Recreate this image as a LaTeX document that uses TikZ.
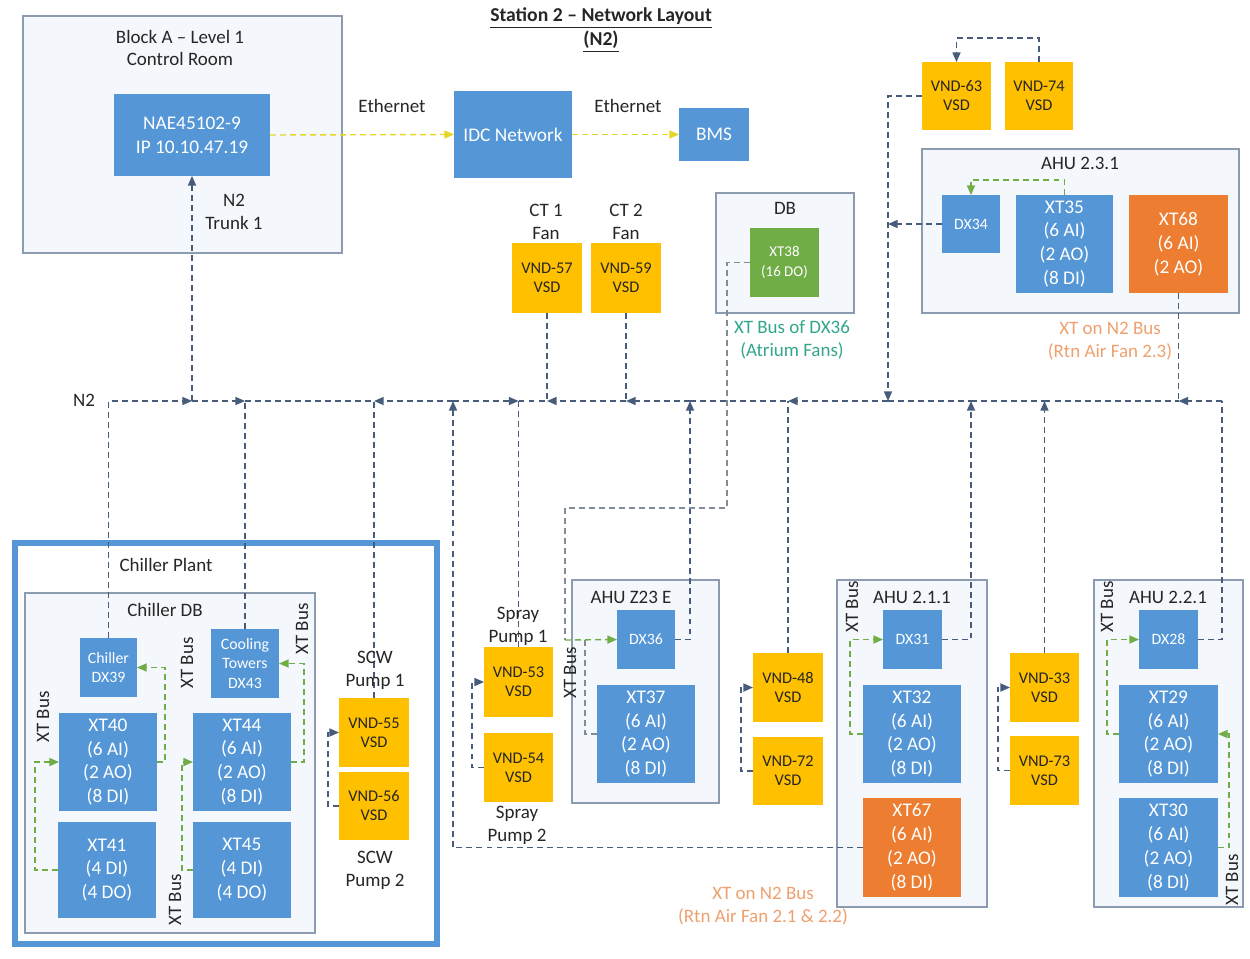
\documentclass[tikz,border=0pt]{standalone}
\usepackage{fontspec}
\setmainfont{Carlito}
\usetikzlibrary{arrows.meta}
\definecolor{bxblue}{RGB}{84,150,214}
\definecolor{bxyel}{RGB}{255,192,0}
\definecolor{bxorg}{RGB}{237,125,49}
\definecolor{bxgrn}{RGB}{112,173,71}
\definecolor{lnslate}{RGB}{70,92,122}
\definecolor{lngray}{RGB}{130,140,150}
\definecolor{lngreen}{RGB}{112,173,71}
\definecolor{lneth}{RGB}{228,215,40}
\definecolor{cntfill}{RGB}{244,247,252}
\definecolor{cntdraw}{RGB}{140,155,175}
\definecolor{txtorg}{RGB}{238,160,110}
\definecolor{txtteal}{RGB}{50,165,140}
\definecolor{txtdark}{RGB}{38,38,38}
\newcommand{\mkbox}[7]{%
  \pgfmathsetmacro{\mkbw}{(#4-#2)*0.569055}%
  \pgfmathsetmacro{\mkbh}{(#5-#3)*0.569055}%
  \node[#6,minimum width=\mkbw pt,minimum height=\mkbh pt] (#1) at ({(#2+#4)/2},{(#3+#5)/2}) {#7};}
\tikzset{
  boxbase/.style={inner sep=0pt,outer sep=0pt,align=center,draw=none},
  bluebox/.style={boxbase,fill=bxblue,text=white,font=\fontsize{11}{13.6}\selectfont},
  dxbox/.style={boxbase,fill=bxblue,text=white,font=\fontsize{9}{10.9}\selectfont},
  orgbox/.style={boxbase,fill=bxorg,text=white,font=\fontsize{11}{13.6}\selectfont},
  grnbox/.style={boxbase,fill=bxgrn,text=white,font=\fontsize{8.5}{11.3}\selectfont},
  vsdbox/.style={boxbase,fill=bxyel,text=txtdark,font=\fontsize{9.3}{10.8}\selectfont},
  cntbox/.style={boxbase,draw=cntdraw,fill=cntfill,line width=0.8pt},
  plantbox/.style={boxbase,draw=bxblue,fill=white,line width=3.9pt},
  lbl/.style={inner sep=0pt,align=center,text=txtdark,font=\fontsize{10.8}{13}\selectfont},
  n2/.style={draw=lnslate,line width=0.8pt,dash pattern=on 3.4pt off 2.3pt},
  n2a/.style={n2,-{Triangle[length=5.5pt,width=4.6pt]}},
  grl/.style={draw=lngray,line width=0.8pt,dash pattern=on 3.4pt off 2.3pt},
  gra/.style={draw=lngreen,line width=0.8pt,dash pattern=on 3.4pt off 2.3pt,-{Triangle[length=5.5pt,width=4.6pt]}},
  eth/.style={draw=lneth,line width=0.8pt,dash pattern=on 3.4pt off 2.3pt,-{Triangle[length=5.5pt,width=4.6pt]}},
}
\begin{document}
\begin{tikzpicture}[x=0.02cm,y=-0.02cm]
\useasboundingbox (0,0) rectangle (1250,958);
% containers
\mkbox{blocka}{23}{16}{342}{253}{cntbox}{}
\mkbox{ahu231}{922}{149}{1239}{313}{cntbox}{}
\mkbox{db}{716}{193}{854}{313}{cntbox}{}
\mkbox{plant}{15}{543}{437}{944}{plantbox}{}
\mkbox{chdb}{25}{593}{315}{933}{cntbox}{}
\mkbox{ahuz23}{572}{580}{719}{803}{cntbox}{}
\mkbox{ahu211}{837}{580}{987}{907}{cntbox}{}
\mkbox{ahu221}{1094}{580}{1243}{907}{cntbox}{}
% boxes
\mkbox{nae}{114}{94}{270}{176}{bluebox}{NAE45102-9\\IP 10.10.47.19}
\mkbox{idc}{454}{91}{572}{178}{bluebox}{IDC Network}
\mkbox{bms}{679}{108}{749}{161}{bluebox}{BMS}
\mkbox{vnd57}{512}{243}{582}{313}{vsdbox}{VND-57\\VSD}
\mkbox{vnd59}{591}{243}{661}{313}{vsdbox}{VND-59\\VSD}
\mkbox{xt38}{750}{228}{819}{297}{grnbox}{XT38\\(16 DO)}
\mkbox{vnd63}{922}{62}{991}{130}{vsdbox}{VND-63\\VSD}
\mkbox{vnd74}{1005}{62}{1073}{130}{vsdbox}{VND-74\\VSD}
\mkbox{dx34}{942}{195}{1000}{253}{dxbox}{DX34}
\mkbox{xt35}{1016}{195}{1113}{293}{bluebox}{XT35\\(6 AI)\\(2 AO)\\(8 DI)}
\mkbox{xt68}{1129}{195}{1228}{293}{orgbox}{XT68\\(6 AI)\\(2 AO)}
\mkbox{dx39}{80}{638}{137}{697}{dxbox}{Chiller\\DX39}
\mkbox{dx43}{211}{629}{279}{698}{dxbox}{Cooling\\Towers\\DX43}
\mkbox{xt40}{59}{713}{157}{811}{bluebox}{XT40\\(6 AI)\\(2 AO)\\(8 DI)}
\mkbox{xt41}{58}{822}{156}{918}{bluebox}{XT41\\(4 DI)\\(4 DO)}
\mkbox{xt44}{193}{713}{291}{811}{bluebox}{XT44\\(6 AI)\\(2 AO)\\(8 DI)}
\mkbox{xt45}{193}{822}{291}{918}{bluebox}{XT45\\(4 DI)\\(4 DO)}
\mkbox{vnd55}{339}{698}{409}{767}{vsdbox}{VND-55\\VSD}
\mkbox{vnd56}{339}{772}{409}{840}{vsdbox}{VND-56\\VSD}
\mkbox{vnd53}{484}{647}{553}{717}{vsdbox}{VND-53\\VSD}
\mkbox{vnd54}{484}{733}{553}{802}{vsdbox}{VND-54\\VSD}
\mkbox{dx36}{617}{610}{675}{669}{dxbox}{DX36}
\mkbox{xt37}{597}{685}{695}{783}{bluebox}{XT37\\(6 AI)\\(2 AO)\\(8 DI)}
\mkbox{vnd48}{753}{653}{823}{722}{vsdbox}{VND-48\\VSD}
\mkbox{vnd72}{753}{737}{823}{805}{vsdbox}{VND-72\\VSD}
\mkbox{dx31}{883}{610}{942}{669}{dxbox}{DX31}
\mkbox{xt32}{863}{685}{961}{783}{bluebox}{XT32\\(6 AI)\\(2 AO)\\(8 DI)}
\mkbox{xt67}{863}{798}{961}{897}{orgbox}{XT67\\(6 AI)\\(2 AO)\\(8 DI)}
\mkbox{vnd33}{1010}{653}{1079}{722}{vsdbox}{VND-33\\VSD}
\mkbox{vnd73}{1010}{736}{1079}{805}{vsdbox}{VND-73\\VSD}
\mkbox{dx28}{1139}{610}{1198}{669}{dxbox}{DX28}
\mkbox{xt29}{1119}{685}{1218}{783}{bluebox}{XT29\\(6 AI)\\(2 AO)\\(8 DI)}
\mkbox{xt30}{1119}{798}{1218}{897}{bluebox}{XT30\\(6 AI)\\(2 AO)\\(8 DI)}
% bus coordinates
\coordinate (busy) at (0,401);
\coordinate (b108) at (108,401);
\coordinate (b192) at (nae.south |- busy);
\coordinate (b245) at (dx43.north |- busy);
\coordinate (b375) at (vnd55.north |- busy);
\coordinate (b453) at (453,401);
\coordinate (b518) at (vnd53.north |- busy);
\coordinate (b547) at (vnd57.south |- busy);
\coordinate (b626) at (vnd59.south |- busy);
\coordinate (b690) at (690,401);
\coordinate (b788) at (vnd48.north |- busy);
\coordinate (b888) at (888,401);
\coordinate (b971) at (971,401);
\coordinate (b1045) at (vnd33.north |- busy);
\coordinate (b1178) at (xt68.south |- busy);
\coordinate (b1222) at (1222,401);
\coordinate (x38a) at (727,508);
\coordinate (x38b) at (565,640);
\coordinate (x37a) at (585,640);
% ethernet
\draw[eth] (nae.east) -- (idc.west);
\draw[eth] (idc.east) -- (bms.west);
% N2 bus
\draw[n2a] (dx39.north) |- (b192);
\draw[n2a] (b192) -- (nae.south);
\draw[n2a] (b192) -- (b245);
\draw[n2] (dx43.north) -- (b245);
\draw[n2] (b245) -- (b375);
\draw[n2] (vnd55.north) -- (b375);
\draw[n2a] (b453) -- (b375);
\draw[n2a] (xt67.west) -| (b453);
\draw[n2a] (b453) -- (b518);
\draw[n2] (vnd53.north) -- (b518);
\draw[n2] (b518) -- (b547);
\draw[n2] (vnd57.south) -- (b547);
\draw[n2a] (b626) -- (b547);
\draw[n2] (vnd59.south) -- (b626);
\draw[n2a] (b690) -- (b626);
\draw[n2a] (dx36.east) -| (b690);
\draw[n2] (b690) -- (b788);
\draw[n2] (vnd48.north) -- (b788);
\draw[n2a] (b888) -- (b788);
\draw[n2a] (vnd63.west) -| (b888);
\draw[n2] (b888) -- (b971);
\draw[n2a] (dx31.east) -| (b971);
\draw[n2] (b971) -- (b1045);
\draw[n2a] (vnd33.north) -- (b1045);
\draw[n2] (b1045) -- (b1178);
\draw[n2] (xt68.south) -- (b1178);
\draw[n2a] (b1222) -- (b1178);
\draw[n2] (dx28.east) -| (b1222);
\draw[n2a] (dx34.west) -- (dx34.west -| b888);
\draw[n2a] (vnd74.north) -- ++(0,-24) -| (vnd63.north);
% pump pairs
\draw[n2a] (vnd56.west) -- ++(-11,0) |- (vnd55.west);
\draw[n2a] (vnd54.west) -- ++(-12,0) |- (vnd53.west);
\draw[n2a] (vnd72.west) -- ++(-12,0) |- (vnd48.west);
\draw[n2a] (vnd73.west) -- ++(-12,0) |- (vnd33.west);
% XT buses
\draw[gra] (xt35.north) -- ++(0,-15) -| (dx34.north);
\draw[gra] (xt40.east) -- ++(8,0) |- (dx39.east);
\draw[gra] (xt41.west) -- ++(-23,0) |- (xt40.west);
\draw[gra] (xt44.east) -- ++(13,0) |- (dx43.east);
\draw[gra] (xt45.west) -- ++(-11,0) |- (xt44.west);
\draw[gra] (xt32.west) -- ++(-13,0) |- (dx31.west);
\draw[gra] (xt29.west) -- ++(-12,0) |- (dx28.west);
\draw[gra] (xt30.east) -- ++(11,0) |- (xt29.east);
\draw[grl] (xt38.west) -| (x38a) -| (x38b);
\draw[grl] (xt37.west) -| (x37a);
\draw[gra] (x38b) -- (dx36.west);
% labels
\node[lbl,font=\fontsize{11.2}{13.5}\selectfont\bfseries] (title) at (601,30) {\underline{Station 2 – Network Layout}\\\underline{(N2)}};
\node[lbl] (lblocka) at (180,48) {Block A – Level 1\\Control Room};
\node[lbl] (leth1) at (392,106) {Ethernet};
\node[lbl] (leth2) at (628,106) {Ethernet};
\node[lbl] (ltrunk) at (234,212) {N2\\Trunk 1};
\node[lbl] (lct1) at (546,222) {CT 1\\Fan};
\node[lbl] (lct2) at (626,222) {CT 2\\Fan};
\node[lbl] (ldb) at (785,208) {DB};
\node[lbl,text=txtteal] (latr) at (792,340) {XT Bus of DX36\\(Atrium Fans)};
\node[lbl] (lahu231) at (1080,163) {AHU 2.3.1};
\node[lbl,text=txtorg] (lrtn23) at (1110,341) {XT on N2 Bus\\(Rtn Air Fan 2.3)};
\node[lbl] (ln2) at (84,400) {N2};
\node[lbl] (lplant) at (166,565) {Chiller Plant};
\node[lbl] (lchdb) at (165,610) {Chiller DB};
\node[lbl] (lscw1) at (375,670) {SCW\\Pump 1};
\node[lbl] (lscw2) at (375,870) {SCW\\Pump 2};
\node[lbl] (lspr1) at (518,626) {Spray\\Pump 1};
\node[lbl] (lspr2) at (517,825) {Spray\\Pump 2};
\node[lbl] (lahuz) at (631,597) {AHU Z23 E};
\node[lbl] (lahu211) at (912,597) {AHU 2.1.1};
\node[lbl] (lahu221) at (1168,597) {AHU 2.2.1};
\node[lbl,text=txtorg] (lrtn21) at (763,906) {XT on N2 Bus\\(Rtn Air Fan 2.1 \& 2.2)};
\node[lbl,rotate=90] (xb1) at (43,717) {XT Bus};
\node[lbl,rotate=90] (xb2) at (187,663) {XT Bus};
\node[lbl,rotate=90] (xb3) at (302,629) {XT Bus};
\node[lbl,rotate=90] (xb4) at (175,900) {XT Bus};
\node[lbl,rotate=90] (xb5) at (570,673) {XT Bus};
\node[lbl,rotate=90] (xb6) at (852,607) {XT Bus};
\node[lbl,rotate=90] (xb7) at (1107,607) {XT Bus};
\node[lbl,rotate=90] (xb8) at (1232,880) {XT Bus};
\end{tikzpicture}
\end{document}
